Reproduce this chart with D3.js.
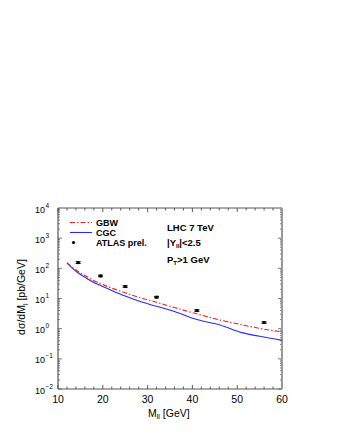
<!DOCTYPE html>
<html><head><meta charset="utf-8">
<script src="https://cdn.jsdelivr.net/npm/d3@7"></script>
<style>body{margin:0;background:#fff}svg{display:block}</style>
</head><body><svg id="c" width="340" height="440"></svg>
<script>
const massGrid = [12, 14, 16, 18, 20, 22, 25, 28, 32, 36, 41, 46, 51, 55, 60];
const gbw =      [155, 88, 58, 39, 29, 22, 15.5, 11, 7.5, 5.0, 3.1, 1.95, 1.35, 1.02, 0.78];
const cgc =      [150, 80, 51, 34, 25, 18.5, 12, 8.2, 5.5, 3.7, 2.0, 1.35, 0.74, 0.56, 0.41];
const atlasM =   [14.5, 19.5, 25, 32, 41, 56];
const atlasY =   [155, 56, 25, 11.1, 4.0, 1.6];
const atlasErr = [0.07, 0.06, 0.06, 0.06, 0.06, 0.06]; // relative
const xTicks = [10, 20, 30, 40, 50, 60];
const yTicks = [-2, -1, 0, 1, 2, 3, 4];

const svg = d3.select('#c');
const L = 58, R = 282, T = 208, B = 389;
const x = d3.scaleLinear().domain([10, 60]).range([L, R]);
const y = d3.scaleLog().domain([1e-2, 1e4]).range([B, T]);
const font = 'Liberation Sans, Arial, Helvetica, sans-serif';

// minor/major ticks
const g = svg.append('g');
for (let v = 10; v <= 60; v += 2) {
  const major = v % 10 === 0;
  const len = major ? 4 : 2.5;
  g.append('line').attr('x1', x(v)).attr('x2', x(v)).attr('y1', B).attr('y2', B - len).attr('stroke', '#333').attr('stroke-width', 0.8);
  g.append('line').attr('x1', x(v)).attr('x2', x(v)).attr('y1', T).attr('y2', T + len).attr('stroke', '#333').attr('stroke-width', 0.8);
}
for (let e = -2; e < 4; e++) {
  for (let k = 1; k <= 9; k++) {
    const v = k * Math.pow(10, e);
    const len = k === 1 ? 4 : 2;
    g.append('line').attr('x1', L).attr('x2', L + len).attr('y1', y(v)).attr('y2', y(v)).attr('stroke', '#444').attr('stroke-width', 0.7);
    g.append('line').attr('x1', R).attr('x2', R - len).attr('y1', y(v)).attr('y2', y(v)).attr('stroke', '#444').attr('stroke-width', 0.7);
  }
}
// frame
svg.append('line').attr('x1', L).attr('x2', L).attr('y1', T).attr('y2', B).attr('stroke', '#555').attr('stroke-width', 1.2);
svg.append('line').attr('x1', L).attr('x2', R).attr('y1', B).attr('y2', B).attr('stroke', '#555').attr('stroke-width', 1.2);
svg.append('line').attr('x1', L).attr('x2', R).attr('y1', T).attr('y2', T).attr('stroke', '#555').attr('stroke-width', 1);
svg.append('line').attr('x1', R).attr('x2', R).attr('y1', T).attr('y2', B).attr('stroke', '#999').attr('stroke-width', 2);

// tick labels
xTicks.forEach(v => {
  svg.append('text').attr('x', x(v)).attr('y', 403).attr('text-anchor', 'middle')
    .attr('font-family', font).attr('font-size', 10.5).text(v);
});
yTicks.forEach(e => {
  svg.append('text').attr('x', 45).attr('y', y(Math.pow(10, e)) + 4.5).attr('text-anchor', 'end')
    .attr('font-family', font).attr('font-size', 9).text('10');
  svg.append('text').attr('x', 45.5).attr('y', y(Math.pow(10, e)) - 0.5)
    .attr('font-family', font).attr('font-size', 6.5).text(e < 0 ? '\u2212' + (-e) : e);
});

// axis titles
const xt = svg.append('text').attr('x', 148).attr('y', 416.5).attr('font-family', font).attr('font-size', 10.5);
xt.append('tspan').text('M');
xt.append('tspan').attr('font-size', 7).attr('dy', 2.5).text('ll');
xt.append('tspan').attr('dy', -2.5).text(' [GeV]');
const yt = svg.append('text').attr('transform', 'translate(25,297) rotate(-90)').attr('text-anchor', 'middle')
  .attr('font-family', font).attr('font-size', 10.5);
yt.append('tspan').text('d\u03c3/dM');
yt.append('tspan').attr('font-size', 7).attr('dy', 2.5).text('l');
yt.append('tspan').attr('dy', -2.5).text(' [pb/GeV]');

// curves
const line = d3.line().x(d => x(d[0])).y(d => y(d[1])).curve(d3.curveMonotoneX);
svg.append('path').datum(massGrid.map((m, i) => [m, cgc[i]])).attr('d', line)
  .attr('fill', 'none').attr('stroke', '#2a2aee').attr('stroke-width', 1.1);
svg.append('path').datum(massGrid.map((m, i) => [m, gbw[i]])).attr('d', line)
  .attr('fill', 'none').attr('stroke', '#ee2222').attr('stroke-width', 1.1).attr('stroke-dasharray', '5,2,1.5,2');

// data points
atlasM.forEach((m, i) => {
  const cx = x(m), v = atlasY[i], er = atlasErr[i];
  const y1 = y(v * (1 + er)), y2 = y(v * (1 - er));
  svg.append('line').attr('x1', cx).attr('x2', cx).attr('y1', y1).attr('y2', y2).attr('stroke', '#000').attr('stroke-width', 1);
  [y1, y2].forEach(yy => svg.append('line').attr('x1', cx - 2.5).attr('x2', cx + 2.5).attr('y1', yy).attr('y2', yy).attr('stroke', '#000').attr('stroke-width', 1));
  svg.append('circle').attr('cx', cx).attr('cy', y(v)).attr('r', 1.6).attr('fill', '#000');
});

// legend
svg.append('line').attr('x1', 70).attr('x2', 92).attr('y1', 222.5).attr('y2', 222.5).attr('stroke', '#ee2222').attr('stroke-width', 1.1).attr('stroke-dasharray', '5,2,1.5,2');
svg.append('line').attr('x1', 70).attr('x2', 92).attr('y1', 232.5).attr('y2', 232.5).attr('stroke', '#2a2aee').attr('stroke-width', 1.1);
svg.append('circle').attr('cx', 73.5).attr('cy', 242.5).attr('r', 1.6).attr('fill', '#000');
[['GBW', 226], ['CGC', 236], ['ATLAS prel.', 246]].forEach(([t, yy]) => {
  svg.append('text').attr('x', 96).attr('y', yy).attr('font-family', font).attr('font-size', 9).attr('font-weight', 'bold').text(t);
});
// annotation
svg.append('text').attr('x', 167).attr('y', 230.5).attr('font-family', font).attr('font-size', 9.5).attr('font-weight', 'bold').text('LHC 7 TeV');
const a2 = svg.append('text').attr('x', 167).attr('y', 245.5).attr('font-family', font).attr('font-size', 9.5).attr('font-weight', 'bold');
a2.append('tspan').text('|Y');
a2.append('tspan').attr('font-size', 6).attr('dy', 2.5).text('ll');
a2.append('tspan').attr('dy', -2.5).text('|<2.5');
const a3 = svg.append('text').attr('x', 167).attr('y', 262.5).attr('font-family', font).attr('font-size', 9.5).attr('font-weight', 'bold');
a3.append('tspan').text('P');
a3.append('tspan').attr('font-size', 6).attr('dy', 2.5).text('T');
a3.append('tspan').attr('dy', -2.5).text('>1 GeV');
</script></body></html>
